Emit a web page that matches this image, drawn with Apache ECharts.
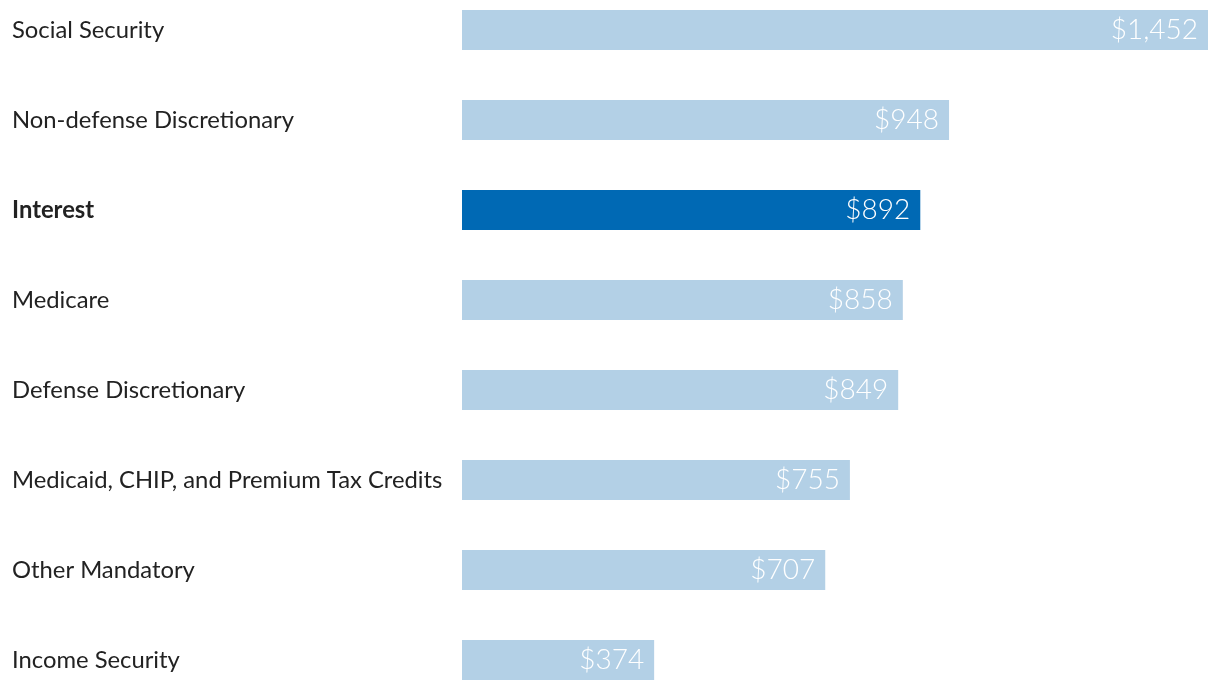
<!DOCTYPE html>
<html>
<head>
<meta charset="utf-8">
<script src="https://cdn.jsdelivr.net/npm/echarts@6/dist/echarts.min.js"></script>
<style>
html,body{margin:0;padding:0;background:#fff;}
#chart{width:1220px;height:690px;}
</style>
</head>
<body>
<div id="chart"></div>
<script>
const categories = [
  "Social Security",
  "Non-defense Discretionary",
  "Interest",
  "Medicare",
  "Defense Discretionary",
  "Medicaid, CHIP, and Premium Tax Credits",
  "Other Mandatory",
  "Income Security"
];
const values = [1452, 948, 892, 858, 849, 755, 707, 374];
const highlight = "Interest";

const LIGHT = "#b3d0e6";
const DARK = "#0069b4";

const chart = echarts.init(document.getElementById('chart'), null, {renderer: 'canvas'});
const option = {
  animation: false,
  grid: {left: 462, right: 12, top: -15, height: 720, containLabel: false, outerBoundsMode: 'none'},
  xAxis: {
    type: 'value', min: 0, max: 1452,
    show: false
  },
  yAxis: {
    type: 'category',
    data: categories,
    inverse: true,
    axisLine: {show: false},
    axisTick: {show: false},
    splitLine: {show: false},
    axisLabel: {
      align: 'left',
      margin: 450,
      fontFamily: 'Lato',
      fontSize: 23.8,
      color: '#222',
      formatter: function (v) {
        return v === highlight ? '{b|' + v + '}' : v;
      },
      rich: {
        b: {fontFamily: 'Lato', fontSize: 23.8, fontWeight: 'bold', color: '#222'}
      }
    }
  },
  series: [{
    type: 'bar',
    barWidth: 40,
    data: values.map(function (v, i) {
      return {
        value: v,
        itemStyle: {color: categories[i] === highlight ? DARK : LIGHT}
      };
    }),
    label: {
      show: true,
      position: 'insideRight',
      distance: 10,
      fontFamily: 'Lato',
      fontWeight: 300,
      fontSize: 28,
      color: '#fff',
      formatter: function (p) {
        return '$' + p.value.toLocaleString('en-US');
      }
    }
  }]
};
chart.setOption(option);
</script>
</body>
</html>
